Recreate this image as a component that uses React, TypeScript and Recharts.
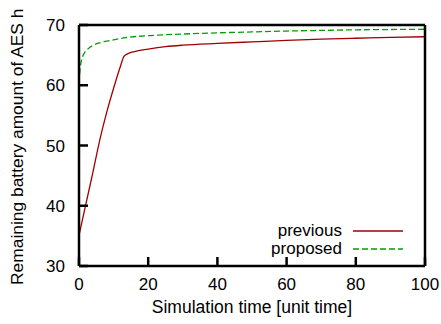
import { LineChart, Line, XAxis, YAxis, Legend } from "recharts";

const prevTime = [0, 2, 4, 6, 8, 10, 12, 13, 14, 16, 20, 25, 30, 40, 50, 60, 70, 80, 90, 100];
const prevValue = [35.1, 40.3, 45.5, 50.9, 55.5, 59.5, 63.2, 64.8, 65.2, 65.6, 66.0, 66.4, 66.65, 66.95, 67.2, 67.45, 67.65, 67.8, 67.95, 68.05];

const propTime = [0, 0.2, 0.5, 1, 1.5, 2.5, 4, 6, 8.8, 13.6, 22, 30, 40, 50, 60, 70, 80, 90, 100];
const propValue = [60.3, 62, 63.5, 64.7, 65.3, 66, 66.6, 67.05, 67.4, 67.9, 68.3, 68.5, 68.7, 68.85, 69.0, 69.1, 69.2, 69.25, 69.3];

const xTicks = [0, 20, 40, 60, 80, 100];
const yTicks = [30, 40, 50, 60, 70];

const prevData = prevTime.map((x, i) => ({ x, y: prevValue[i] }));
const propData = propTime.map((x, i) => ({ x, y: propValue[i] }));

const FONT = "'Liberation Sans', Arial, sans-serif";
const W = 441;
const H = 324;
const MARGIN = { top: 24, right: 15, left: 0, bottom: 0 };
const X_AXIS_H = 58;
const Y_AXIS_W = 79;

// plot box edges, from the layout above
const PLOT_TOP = MARGIN.top + 1;
const PLOT_BOTTOM = H - X_AXIS_H;
const PLOT_LEFT = Y_AXIS_W;
const PLOT_RIGHT = W - MARGIN.right - 1;

const axisLine = { stroke: "#000", strokeWidth: 2.5 };
const TICK_LEN = 9;

// gnuplot-style ticks: drawn inward, labels outside
function BottomTick(p: any) {
  const x = Number(p.x);
  return (
    <g>
      <path d={`M${x},${PLOT_BOTTOM}V${PLOT_BOTTOM - TICK_LEN}`} stroke="#000" strokeWidth={2.5} fill="none" />
      <text x={x} y={PLOT_BOTTOM + 12} dy="0.71em" textAnchor="middle" fontSize={17} fontFamily={FONT} fill="#000">
        {p.payload.value}
      </text>
    </g>
  );
}

function LeftTick(p: any) {
  const y = Number(p.y);
  return (
    <g>
      <path d={`M${PLOT_LEFT},${y}H${PLOT_LEFT + TICK_LEN}`} stroke="#000" strokeWidth={2.5} fill="none" />
      <text x={PLOT_LEFT - 14} y={y} dy="0.355em" textAnchor="end" fontSize={17} fontFamily={FONT} fill="#000">
        {p.payload.value}
      </text>
    </g>
  );
}

function TopTick(p: any) {
  const x = Number(p.x);
  return <path d={`M${x},${PLOT_TOP}V${PLOT_TOP + TICK_LEN}`} stroke="#000" strokeWidth={2.5} fill="none" />;
}

function RightTick(p: any) {
  const y = Number(p.y);
  return <path d={`M${PLOT_RIGHT},${y}H${PLOT_RIGHT - TICK_LEN}`} stroke="#000" strokeWidth={2.5} fill="none" />;
}

function renderLegend(props: any) {
  const { payload } = props;
  return (
    <div style={{ fontFamily: FONT, fontSize: 17, color: "#000" }}>
      {payload.map((entry: any) => (
        <div
          key={entry.value}
          style={{ display: "flex", alignItems: "center", height: 18, lineHeight: "18px" }}
        >
          <span style={{ width: 90, textAlign: "right" }}>{entry.value}</span>
          <svg width={50} height={18} style={{ marginLeft: 11 }}>
            <line
              x1={0}
              x2={50}
              y1={9}
              y2={9}
              stroke={entry.color}
              strokeWidth={1.3}
              strokeDasharray={entry.payload?.strokeDasharray}
            />
          </svg>
        </div>
      ))}
    </div>
  );
}

export default function App() {
  return (
    <div style={{ position: "absolute", left: 0, top: 0 }}>
      <LineChart width={W} height={H} margin={MARGIN} style={{ fontFamily: FONT }}>
        <XAxis
          dataKey="x"
          type="number"
          domain={[0, 100]}
          ticks={xTicks}
          height={X_AXIS_H}
          stroke="#000"
          tickSize={0}
          tickMargin={12}
          axisLine={axisLine}
          tickLine={false}
          tick={(p: any) => <BottomTick {...p} />}
          label={{
            value: "Simulation time [unit time]",
            content: ({ viewBox }: any) => (
              <text
                x={viewBox.x + viewBox.width / 2}
                y={313}
                textAnchor="middle"
                fontSize={17.5}
                fontFamily={FONT}
                fill="#000"
              >
                Simulation time [unit time]
              </text>
            ),
          }}
        />
        <XAxis
          xAxisId="top"
          orientation="top"
          type="number"
          domain={[0, 100]}
          ticks={xTicks}
          height={1}
          stroke="#000"
          tickSize={0}
          tickMargin={0}
          axisLine={axisLine}
          tickLine={false}
          tick={(p: any) => <TopTick {...p} />}
        />

        <YAxis
          type="number"
          domain={[30, 70]}
          ticks={yTicks}
          width={Y_AXIS_W}
          stroke="#000"
          tickSize={0}
          tickMargin={14}
          axisLine={axisLine}
          tickLine={false}
          tick={(p: any) => <LeftTick {...p} />}
          label={{
            value: "Remaining battery amount of AES h",
            content: () => (
              <text
                x={23}
                y={285}
                transform="rotate(-90 23 285)"
                textAnchor="start"
                fontSize={17.4}
                fontFamily={FONT}
                fill="#000"
              >
                Remaining battery amount of AES h
              </text>
            ),
          }}
        />
        <YAxis
          yAxisId="right"
          orientation="right"
          type="number"
          domain={[30, 70]}
          ticks={yTicks}
          width={1}
          stroke="#000"
          tickSize={0}
          tickMargin={0}
          axisLine={axisLine}
          tickLine={false}
          tick={(p: any) => <RightTick {...p} />}
        />

        <Legend
          layout="horizontal"
          verticalAlign="middle"
          align="center"
          content={renderLegend}
          wrapperStyle={{ left: 252, top: 222, width: 160 }}
        />

        <Line
          data={prevData}
          dataKey="y"
          name="previous"
          type="monotone"
          stroke="#a00000"
          strokeWidth={1.3}
          dot={false}
          isAnimationActive={false}
        />
        <Line
          data={propData}
          dataKey="y"
          name="proposed"
          type="monotone"
          stroke="#00a000"
          strokeWidth={1.3}
          strokeDasharray="6 3"
          dot={false}
          isAnimationActive={false}
        />
      </LineChart>
    </div>
  );
}
